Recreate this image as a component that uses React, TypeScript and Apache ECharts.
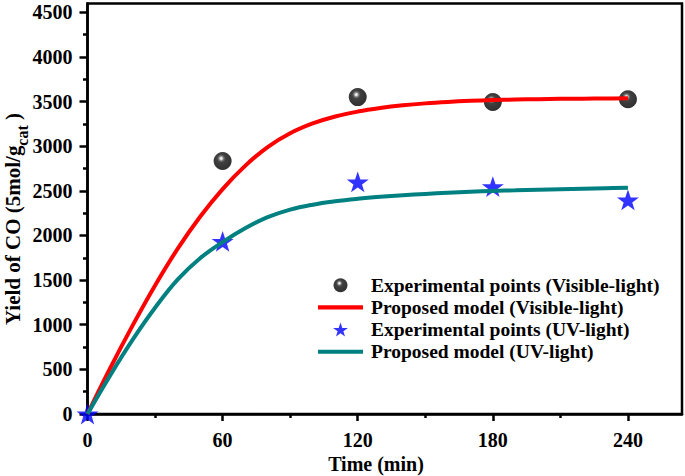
import React, { useEffect, useRef } from "react";
import * as echarts from "echarts";

const visibleExpTimes = [60, 120, 180, 240];
const visibleExpValues = [2835, 3550, 3495, 3527];
const uvExpTimes = [0, 60, 120, 180, 240];
const uvExpValues = [0, 1935, 2600, 2547, 2398];

const modelTimes = [0, 10, 20, 30, 40, 50, 60, 70, 80, 90, 100, 110, 120, 130, 140, 150, 160, 170, 180, 190, 200, 210, 220, 230, 240];
const visibleModel = [0, 510, 990, 1440, 1850, 2210, 2520, 2780, 2990, 3145, 3255, 3333, 3388, 3428, 3458, 3480, 3496, 3508, 3517, 3523, 3527, 3531, 3533, 3535, 3537];
const uvModel = [0, 430, 830, 1190, 1505, 1745, 1925, 2080, 2205, 2290, 2345, 2383, 2411, 2433, 2451, 2466, 2479, 2490, 2499, 2506, 2513, 2519, 2524, 2529, 2534];

const xMajorTicks = [0, 60, 120, 180, 240];
const xMinorTicks = [30, 90, 150, 210];
const yMajorTicks = [0, 500, 1000, 1500, 2000, 2500, 3000, 3500, 4000, 4500];
const yMinorTicks = [250, 750, 1250, 1750, 2250, 2750, 3250, 3750, 4250];

const seriesNames = [
  "Experimental points (Visible-light)",
  "Proposed model (Visible-light)",
  "Experimental points (UV-light)",
  "Proposed model (UV-light)",
];

const FONT = "'Liberation Serif', 'Times New Roman', serif";
const STAR = "path://M50,0 L61.8,35.1 L98.1,35.1 L68.8,56.7 L79.4,91 L50,70 L20.6,91 L31.2,56.7 L1.9,35.1 L38.2,35.1 Z";
const LINE_ICON = "path://M0,0 L100,0 L100,9 L0,9 Z";

export default function App() {
  const ref = useRef<HTMLDivElement>(null);
  useEffect(() => {
    if (!ref.current) return;
    const chart = echarts.init(ref.current, null, { renderer: "svg" });
    const sphere = new echarts.graphic.RadialGradient(0.42, 0.36, 0.55, [
      { offset: 0, color: "#ffffff" },
      { offset: 0.1, color: "#dddddd" },
      { offset: 0.25, color: "#555555" },
      { offset: 0.42, color: "#111111" },
      { offset: 1, color: "#000000" },
    ]);
    const X_MAX = 264;
    const Y_MAX = 4600;
    const baseX = {
      type: "value",
      min: 0,
      max: X_MAX,
      position: "bottom",
      splitLine: { show: false },
    };
    const baseY = {
      type: "value",
      min: 0,
      max: Y_MAX,
      position: "left",
      splitLine: { show: false },
    };
    chart.setOption({
      animation: false,
      backgroundColor: "#ffffff",
      grid: {
        left: 87.5,
        top: 3.4,
        width: 594.5,
        height: 410.6,
        show: true,
        borderColor: "#000",
        borderWidth: 2.5,
        backgroundColor: "transparent",
      },
      xAxis: [
        {
          ...baseX,
          interval: 60,
          axisLine: { show: true, lineStyle: { color: "#000", width: 2.5 } },
          axisTick: { show: true, inside: false, length: 7, customValues: xMajorTicks, lineStyle: { color: "#000", width: 2.5 } },
          axisLabel: {
            customValues: xMajorTicks,
            formatter: (v: number) => String(v),
            margin: 16,
            color: "#000",
            fontFamily: FONT,
            fontWeight: "bold",
            fontSize: 20,
          },
        },
        {
          ...baseX,
          interval: 30,
          axisLine: { show: false },
          axisTick: { show: true, inside: false, length: 4, customValues: xMinorTicks, lineStyle: { color: "#000", width: 2.5 } },
          axisLabel: { show: false },
        },
      ],
      yAxis: [
        {
          ...baseY,
          interval: 500,
          axisLine: { show: true, lineStyle: { color: "#000", width: 2.5 } },
          axisTick: { show: true, inside: false, length: 8, customValues: yMajorTicks, lineStyle: { color: "#000", width: 2.5 } },
          axisLabel: {
            customValues: yMajorTicks,
            formatter: (v: number) => String(v),
            margin: 15,
            color: "#000",
            fontFamily: FONT,
            fontWeight: "bold",
            fontSize: 20,
          },
        },
        {
          ...baseY,
          interval: 250,
          axisLine: { show: false },
          axisTick: { show: true, inside: false, length: 4.5, customValues: yMinorTicks, lineStyle: { color: "#000", width: 2.5 } },
          axisLabel: { show: false },
        },
      ],
      legend: {
        orient: "vertical",
        left: 318,
        top: 275.2,
        padding: 0,
        itemWidth: 45,
        itemHeight: 14,
        itemGap: 2.2,
        selectedMode: false,
        data: [
          { name: seriesNames[0] },
          { name: seriesNames[1], icon: LINE_ICON },
          { name: seriesNames[2] },
          { name: seriesNames[3], icon: LINE_ICON },
        ],
        textStyle: {
          color: "#000",
          fontFamily: FONT,
          fontWeight: "bold",
          fontSize: 19.5,
          lineHeight: 19.5,
          padding: [0, 0, 0, 3],
        },
      },
      series: [
        {
          name: seriesNames[0],
          type: "scatter",
          xAxisIndex: 0,
          yAxisIndex: 0,
          symbol: "circle",
          symbolSize: 18,
          z: 2,
          itemStyle: { color: sphere },
          data: visibleExpTimes.map((t, i) => [t, visibleExpValues[i]]),
        },
        {
          name: seriesNames[1],
          type: "line",
          xAxisIndex: 0,
          yAxisIndex: 0,
          smooth: 0.4,
          symbol: "none",
          z: 3,
          itemStyle: { color: "#ff0000" },
          lineStyle: { color: "#ff0000", width: 4 },
          data: modelTimes.map((t, i) => [t, visibleModel[i]]),
        },
        {
          name: seriesNames[2],
          type: "scatter",
          xAxisIndex: 0,
          yAxisIndex: 0,
          symbol: STAR,
          symbolKeepAspect: true,
          symbolSize: 22,
          z: 2,
          itemStyle: { color: "#0000ff" },
          data: uvExpTimes.map((t, i) => [t, uvExpValues[i]]),
        },
        {
          name: seriesNames[3],
          type: "line",
          xAxisIndex: 0,
          yAxisIndex: 0,
          smooth: 0.4,
          symbol: "none",
          z: 3,
          itemStyle: { color: "#008080" },
          lineStyle: { color: "#008080", width: 4 },
          data: modelTimes.map((t, i) => [t, uvModel[i]]),
        },
      ],
      graphic: [
        {
          type: "text",
          x: 376,
          y: 464,
          style: {
            text: "Time (min)",
            fill: "#000",
            fontFamily: FONT,
            fontWeight: "bold",
            fontSize: 20,
            align: "center",
            verticalAlign: "middle",
          },
        },
        {
          type: "text",
          x: 14,
          y: 219,
          rotation: Math.PI / 2,
          style: {
            text: "{a|Yield of CO (5mol/g}{b|cat}{a| )}",
            fill: "#000",
            fontFamily: FONT,
            fontWeight: "bold",
            fontSize: 21,
            align: "center",
            verticalAlign: "middle",
            rich: {
              a: { fontFamily: FONT, fontWeight: "bold", fontSize: 21, lineHeight: 24, verticalAlign: "top", fill: "#000" },
              b: { fontFamily: FONT, fontWeight: "bold", fontSize: 16, lineHeight: 16, verticalAlign: "top", padding: [12, 0, 0, 0], fill: "#000" },
            },
          },
        },
      ],
    });
    return () => chart.dispose();
  }, []);
  return <div ref={ref} style={{ width: 685, height: 476, position: "absolute", left: 0, top: 0 }} />;
}
